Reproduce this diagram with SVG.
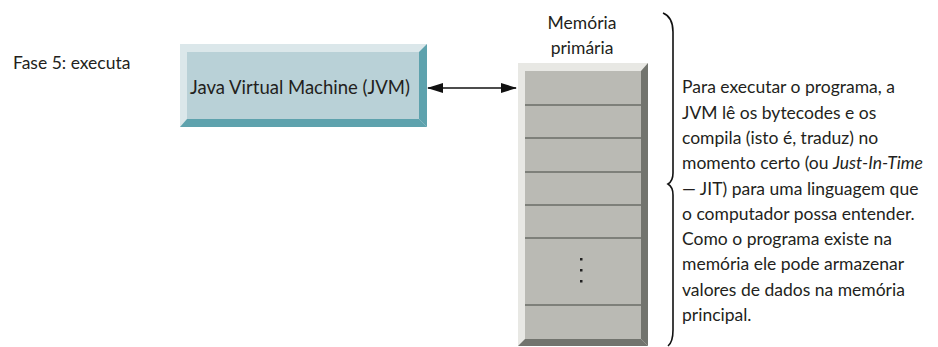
<svg xmlns="http://www.w3.org/2000/svg" width="938" height="347" viewBox="0 0 938 347">
<defs>
<style>
text{font-family:Lato,"Open Sans","DejaVu Sans",sans-serif;fill:#231f20}
.lbl{font-size:17.5px}
.big{font-size:18.5px}
.body{font-size:17.5px}
.sep{stroke:#6a6c67;stroke-width:1.6}
.dot{fill:#222}
.conn{stroke:#111;stroke-width:1.6;fill:none}
</style>
<marker id="ah" viewBox="0 0 16 10" refX="15" refY="5" markerWidth="16" markerHeight="10" markerUnits="userSpaceOnUse" orient="auto-start-reverse">
<path d="M0,0 L16,5 L0,10 Z" fill="#111"/>
</marker>
</defs>
<rect width="938" height="347" fill="#ffffff"/>
<g id="fase">
<text class="lbl" x="13" y="69">Fase 5: executa</text>
</g>
<g id="jvm">
<rect x="180" y="44" width="247" height="83" fill="#dbe7ea"/>
<polygon points="427,44 427,127 419,119 419,52" fill="#5ea2ad"/>
<polygon points="180,127 427,127 419,119 187,119" fill="#5ea2ad"/>
<rect x="187" y="52" width="232" height="67" fill="#b9d1d7"/>
<text class="big" x="300" y="93.5" text-anchor="middle">Java Virtual Machine (JVM)</text>
</g>
<g id="memoria">
<text class="lbl" x="582" y="29" text-anchor="middle">Memória</text>
<text class="lbl" x="582" y="54" text-anchor="middle">primária</text>
<rect x="518" y="63" width="130" height="283" fill="#e8e8e4"/>
<polygon points="648,63 648,346 641,339 641,71" fill="#72746e"/>
<polygon points="518,346 648,346 641,339 525,339" fill="#72746e"/>
<rect x="525" y="71" width="116" height="268" fill="#babab4"/>
<line class="sep" x1="525" y1="105" x2="641" y2="105"/>
<line class="sep" x1="525" y1="138" x2="641" y2="138"/>
<line class="sep" x1="525" y1="172" x2="641" y2="172"/>
<line class="sep" x1="525" y1="205" x2="641" y2="205"/>
<line class="sep" x1="525" y1="238" x2="641" y2="238"/>
<line class="sep" x1="525" y1="305" x2="641" y2="305"/>
<rect class="dot" x="580" y="258" width="2.5" height="2.5"/>
<rect class="dot" x="580" y="269" width="2.5" height="2.5"/>
<rect class="dot" x="580" y="280" width="2.5" height="2.5"/>
</g>
<g id="connectors">
<line class="conn" x1="428" y1="88" x2="516" y2="88" marker-start="url(#ah)" marker-end="url(#ah)"/>
<path class="conn" d="M663,13 Q673,17 673,32 L673,173 Q673,181 668,184 Q673,187 673,195 L673,330 Q673,342 668,346" stroke-width="2"/>
</g>
<g id="descricao">
<text class="body" x="682" y="93.3">Para executar o programa, a</text>
<text class="body" x="682" y="118.6">JVM lê os bytecodes e os</text>
<text class="body" x="682" y="143.9">compila (isto é, traduz) no</text>
<text class="body" x="682" y="169.2">momento certo (ou <tspan font-style="italic">Just-In-Time</tspan></text>
<text class="body" x="682" y="194.5">— JIT) para uma linguagem que</text>
<text class="body" x="682" y="219.8">o computador possa entender.</text>
<text class="body" x="682" y="245.1">Como o programa existe na</text>
<text class="body" x="682" y="270.4">memória ele pode armazenar</text>
<text class="body" x="682" y="295.7">valores de dados na memória</text>
<text class="body" x="682" y="321">principal.</text>
</g>
</svg>
